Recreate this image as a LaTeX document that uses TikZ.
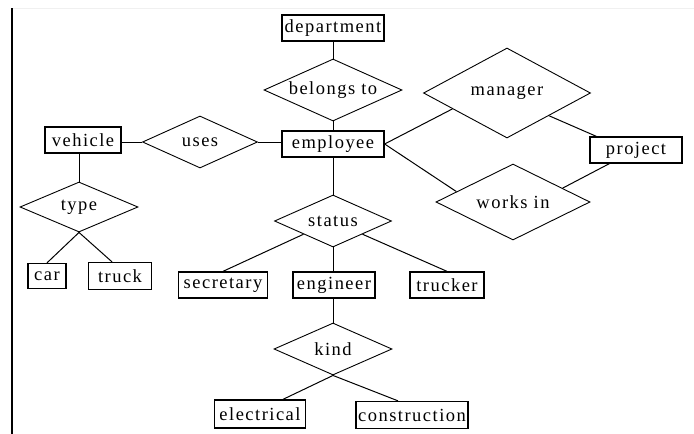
\documentclass[tikz,border=0pt]{standalone}
\usepackage{fontspec}
\setmainfont{Liberation Serif}[LetterSpace=8]
\usetikzlibrary{calc,shapes.geometric}
\tikzset{
  ent/.style={draw, line width=1.3pt, inner sep=0pt, minimum height=26},
  rel/.style={draw, diamond, aspect=2.3, inner sep=0pt, line width=0.9pt},
  link/.style={line width=1pt},
}

\begin{document}
\begin{tikzpicture}[x=1pt, y=-1pt, every node/.style={font=\fontsize{18.5}{21}\selectfont}]
  \useasboundingbox (0,0) rectangle (694,434);
  \draw[black!6] (12,8) -- (694,8);
  \draw[line width=1.5pt] (12,8) -- (12,434);
  \node[ent, minimum width=102] (dept) at (333,28) {department};
  \node[ent, minimum width=102] (emp) at (333,144) {employee};
  \node[ent, minimum width=76] (vehicle) at (83,140) {vehicle};
  \node[ent, minimum width=38, minimum height=25] (car) at (47,276) {car};
  \node[ent, minimum width=63, minimum height=27] (truck) at (120,276) {truck};
  \node[ent, minimum width=89] (secretary) at (223,285) {secretary};
  \node[ent, minimum width=82] (engineer) at (334,285) {engineer};
  \node[ent, minimum width=74] (trucker) at (447,285) {trucker};
  \node[ent, minimum width=91, minimum height=28] (electrical) at (260,414) {electrical};
  \node[ent, minimum width=112, minimum height=27] (construction) at (412,415) {construction};
  \node[ent, minimum width=92] (project) at (636,150) {project};
  \node[rel, minimum width=138, minimum height=62] (belongs) at (333,90) {belongs to};
  \node[rel, minimum width=115, minimum height=52] (uses) at (200,142) {uses};
  \node[rel, minimum width=118, minimum height=50] (type) at (79,207) {type};
  \node[rel, minimum width=117, minimum height=52] (status) at (333,221) {status};
  \node[rel, minimum width=118, minimum height=52] (kind) at (333,349) {kind};
  \node[rel, minimum width=167, minimum height=90] (manager) at (507,93) {manager};
  \node[rel, minimum width=154, minimum height=76] (worksin) at (513,202) {works in};
  \draw[link] (belongs.north) -- (belongs.north |- dept.south);
  \draw[link] (belongs.south) -- (belongs.south |- emp.north);
  \draw[link] (uses.west) -- (uses.west -| vehicle.east);
  \draw[link] (uses.east) -- (uses.east -| emp.west);
  \draw[link] (type.north) -- (type.north |- vehicle.south);
  \draw[link] (type.south) -- (car.north);
  \draw[link] (type.south) -- ([xshift=-8]truck.north);
  \draw[link] (status.north) -- (status.north |- emp.south);
  \draw[link] (status.south west) -- (secretary.north);
  \draw[link] (status.south) -- (status.south |- engineer.north);
  \draw[link] (status.south east) -- (trucker.north);
  \draw[link] (kind.north) -- (kind.north |- engineer.south);
  \draw[link] (kind.south) -- ([xshift=23]electrical.north);
  \draw[link] (kind.south) -- ([xshift=-14]construction.north);
  \draw[link] (emp.east) -- ($(manager.west)!0.35!(manager.south)$);
  \draw[link] (emp.east) -- ($(worksin.west)!0.27!(worksin.north)$);
  \draw[link] (manager.south east) -- ([xshift=7]project.north west);
  \draw[link] ($(worksin.north)!0.64!(worksin.east)$) -- ([xshift=20]project.south west);
\end{tikzpicture}
\end{document}
